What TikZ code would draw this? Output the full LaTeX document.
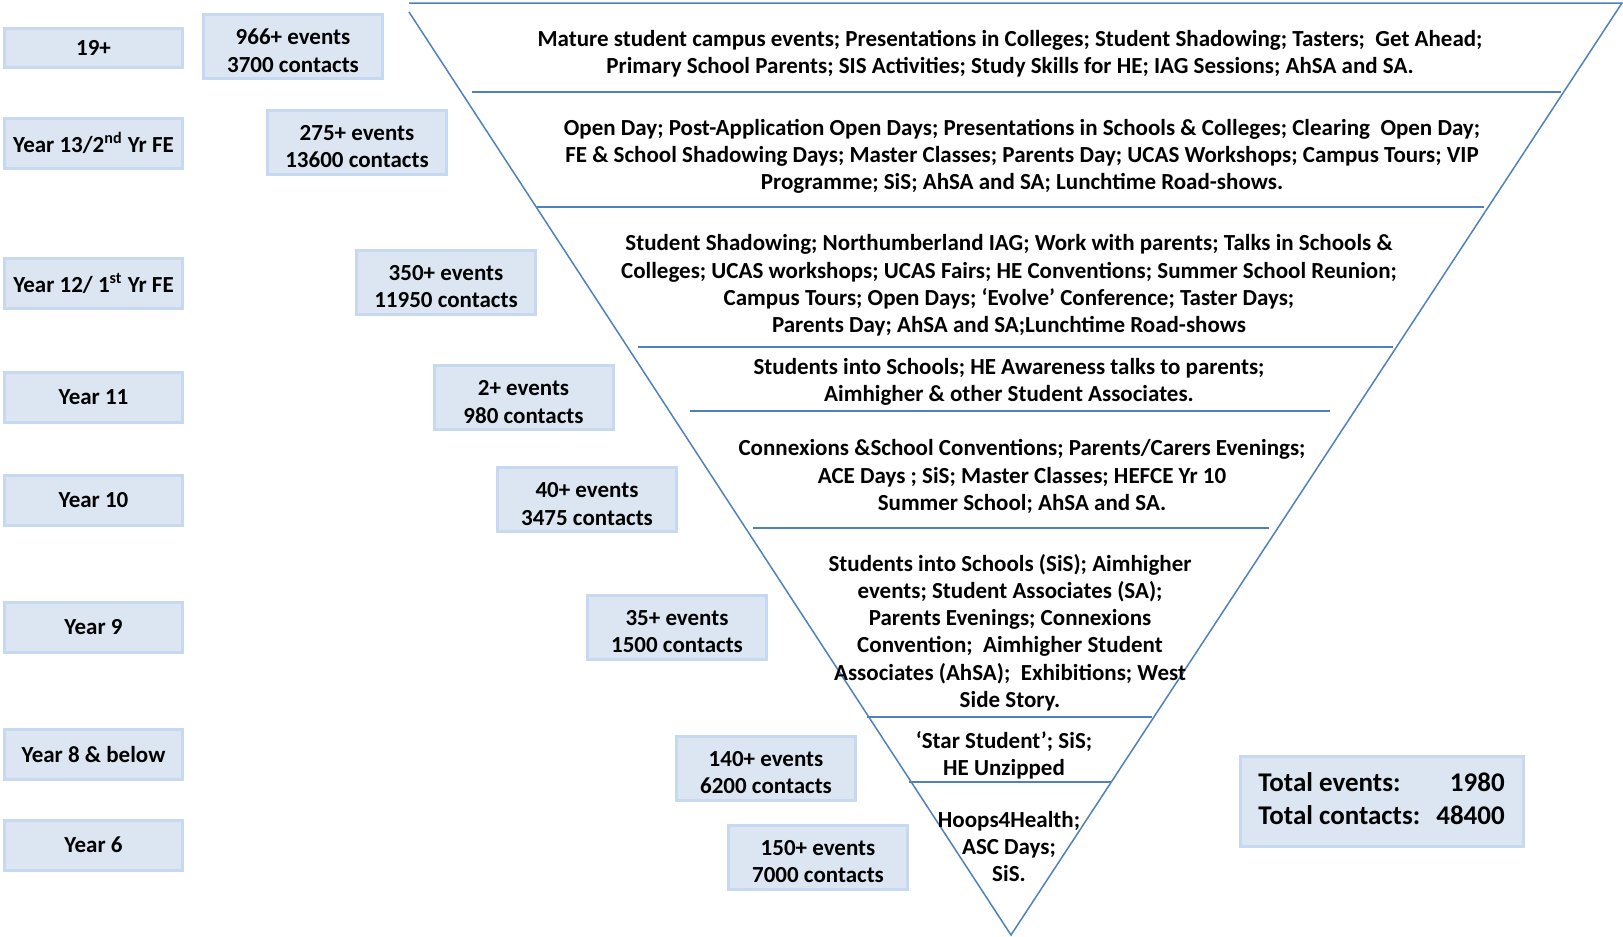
\documentclass[tikz,border=0pt]{standalone}
\usepackage{fontspec}
\setmainfont{Carlito}
\usetikzlibrary{positioning}

\definecolor{boxfill}{HTML}{DCE6F2}
\definecolor{boxline}{HTML}{C6D9F1}
\definecolor{funnel}{HTML}{4F81BD}

\newcommand\toppad{\rule{0pt}{12pt}}

\tikzset{
  txt/.style={font=\bfseries\fontsize{11.5}{13.6}\selectfont},
  agebox/.style={txt, draw=boxline, fill=boxfill, line width=1.5pt, inner sep=0pt,
                 minimum width=89pt, minimum height=25pt},
  countbox/.style={agebox, align=center, minimum width=89.5pt, minimum height=32pt},
  activity/.style={txt, align=center, inner sep=0pt, yshift=-1.25pt},
  divider/.style={draw=funnel, line width=0.75pt}
}

\begin{document}
\begin{tikzpicture}[x=0.5pt,y=-0.5pt]
   \useasboundingbox (0,0) rectangle (1623,937);

   % the funnel
   \coordinate (tl) at (409,3);
   \coordinate (tl2) at (409,12);
   \coordinate (tr) at (1622,3);
   \coordinate (ap) at (1011,935);
   \draw[divider] (tl2) -- (ap) -- (tr) -- (tl);
   \foreach \y/\xa/\xb in {92/472/1561, 207/537/1484, 347/638/1393, 411/690/1330,
                           528/753/1269, 717/867/1152, 782/909/1111}
      \draw[divider] (\xa,\y) -- (\xb,\y);

   % year groups
   \node[agebox, minimum height=19.5pt] (age19) at (93.5,47.5) {19+};
   \node[agebox] (age13) at (93.5,143)   {Year 13/2\textsuperscript{nd} Yr FE};
   \node[agebox] (age12) at (93.5,283.5) {Year 12/ 1\textsuperscript{st} Yr FE};
   \node[agebox] (age11) at (93.5,397)   {Year 11};
   \node[agebox] (age10) at (93.5,500)   {Year 10};
   \node[agebox] (age9)  at (93.5,627)   {Year 9};
   \node[agebox] (age8)  at (93.5,754.5) {Year 8 \& below};
   \node[agebox] (age6)  at (93.5,845)   {Year 6};

   % events and contacts
   \node[countbox] (cnt19) at (293,46.5)    {\toppad966+ events\\3700 contacts};
   \node[countbox] (cnt13) at (357,142)     {\toppad275+ events\\13600 contacts};
   \node[countbox] (cnt12) at (446,282)     {\toppad350+ events\\11950 contacts};
   \node[countbox] (cnt11) at (523.5,397.5) {\toppad2+ events\\980 contacts};
   \node[countbox] (cnt10) at (587,499.5)   {\toppad40+ events\\3475 contacts};
   \node[countbox] (cnt9)  at (677,627)     {\toppad35+ events\\1500 contacts};
   \node[countbox] (cnt8)  at (766,768)     {\toppad140+ events\\6200 contacts};
   \node[countbox] (cnt6)  at (818,857)     {\toppad150+ events\\7000 contacts};

   % activities inside the funnel
   \node[activity] (act19) at (1010,51)
      {Mature student campus events; Presentations in Colleges; Student Shadowing; Tasters;~ Get Ahead;\\
       Primary School Parents; SIS Activities; Study Skills for HE; IAG Sessions; AhSA and SA.};
   \node[activity] (act13) at (1022,154)
      {Open Day; Post-Application Open Days; Presentations in Schools \& Colleges; Clearing~ Open Day;\\
       FE \& School Shadowing Days; Master Classes; Parents Day; UCAS Workshops; Campus Tours; VIP\\
       Programme; SiS; AhSA and SA; Lunchtime Road-shows.};
   \node[activity] (act12) at (1009,283)
      {Student Shadowing; Northumberland IAG; Work with parents; Talks in Schools \&\\
       Colleges; UCAS workshops; UCAS Fairs; HE Conventions; Summer School Reunion;\\
       Campus Tours; Open Days; ‘Evolve’ Conference; Taster Days;\\
       Parents Day; AhSA and SA;Lunchtime Road-shows};
   \node[activity] (act11) at (1009,379)
      {Students into Schools; HE Awareness talks to parents;\\
       Aimhigher \& other Student Associates.};
   \node[activity] (act10) at (1022,474)
      {Connexions \&School Conventions; Parents/Carers Evenings;\\
       ACE Days ; SiS; Master Classes; HEFCE Yr 10\\
       Summer School; AhSA and SA.};
   \node[activity] (act9) at (1010,630)
      {Students into Schools (SiS); Aimhigher\\
       events; Student Associates (SA);\\
       Parents Evenings; Connexions\\
       Convention;~ Aimhigher Student\\
       Associates (AhSA);~ Exhibitions; West\\
       Side Story.};
   \node[activity] (act8) at (1004,753) {‘Star Student’; SiS;\\HE Unzipped};
   \node[activity] (act6) at (1009,844) {Hoops4Health;\\ASC Days;\\SiS.};

   % totals
   \node[agebox, minimum width=141.5pt, minimum height=45pt,
         font=\bfseries\fontsize{13.5}{16.5}\selectfont] (total) at (1381.5,801)
      {\begin{tabular}{@{}l@{\hspace{8pt}}r@{}}
         Total events: & 1980\\
         Total contacts: & 48400
       \end{tabular}};
\end{tikzpicture}
\end{document}
